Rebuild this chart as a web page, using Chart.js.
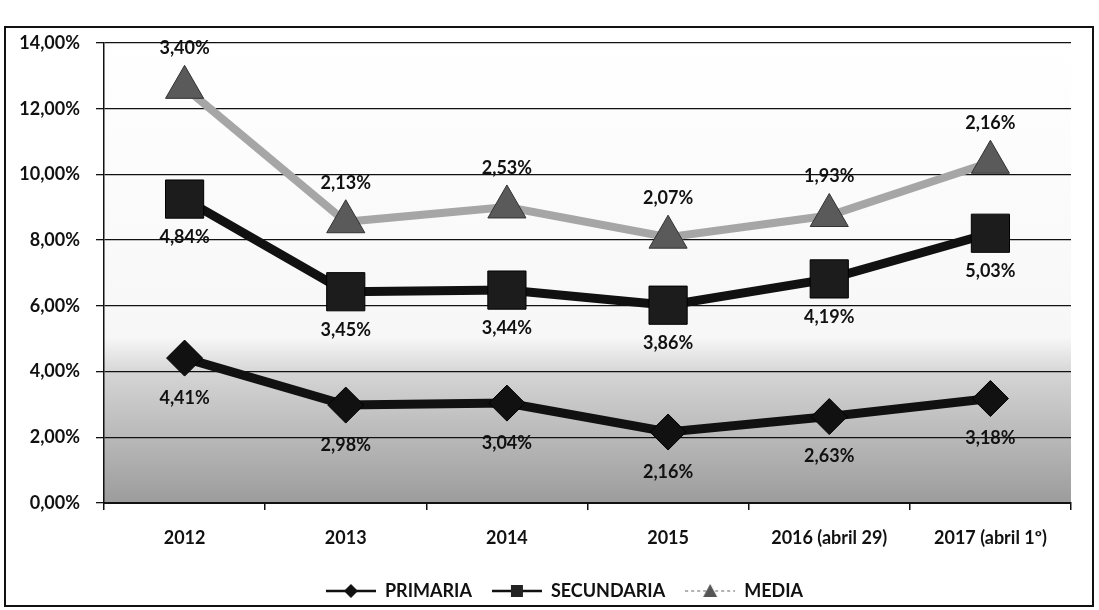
<!DOCTYPE html>
<html>
<head>
<meta charset="utf-8">
<script src="https://cdn.jsdelivr.net/npm/chart.js@4/dist/chart.umd.min.js"></script>
<style>
  html, body { margin: 0; padding: 0; background: #fff; }
  #wrap { width: 1099px; height: 610px; position: relative; }
</style>
</head>
<body>
<div id="wrap"><canvas id="chart"></canvas></div>
<script>
// datos
const years = ['2012', '2013', '2014', '2015', '2016 (abril 29)', '2017 (abril 1º)'];
const primaria = [4.41, 2.98, 3.04, 2.16, 2.63, 3.18];
const secundaria = [4.84, 3.45, 3.44, 3.86, 4.19, 5.03];
const media = [3.40, 2.13, 2.53, 2.07, 1.93, 2.16];
const yTicks = [0, 2, 4, 6, 8, 10, 12, 14];

const FONT = 'Lato, "Open Sans", sans-serif';
const pct = v => v.toFixed(2).replace('.', ',') + '%';

// icono de leyenda: línea + marcador
function legendIcon(shape, lineColor, markColor, dashed) {
  const c = document.createElement('canvas');
  c.width = 50; c.height = 20;
  const g = c.getContext('2d');
  g.strokeStyle = lineColor;
  g.lineWidth = dashed ? 1.5 : 2.5;
  if (dashed) g.setLineDash([3, 3]);
  g.beginPath(); g.moveTo(0, 10); g.lineTo(50, 10); g.stroke();
  g.setLineDash([]);
  g.fillStyle = markColor;
  g.beginPath();
  if (shape === 'diamond') {
    g.moveTo(25, 3); g.lineTo(32, 10); g.lineTo(25, 17); g.lineTo(18, 10);
  } else if (shape === 'square') {
    g.rect(19, 4, 12, 12);
  } else {
    g.moveTo(25, 3); g.lineTo(32, 16); g.lineTo(18, 16);
  }
  g.closePath(); g.fill();
  return c;
}

const icons = [
  legendIcon('diamond', '#111', '#111', false),
  legendIcon('square', '#111', '#222', false),
  legendIcon('triangle', '#999', '#555', true)
];

// fondo, marco y degradado del área
const backdrop = {
  id: 'backdrop',
  afterLayout(chart) {
    // la leyenda del original está algo desplazada a la derecha
    chart.legend.left += 15;
    chart.legend.right += 15;
  },
  beforeDraw(chart) {
    const { ctx, chartArea: a } = chart;
    ctx.save();
    ctx.fillStyle = '#fff';
    ctx.fillRect(0, 0, chart.width, chart.height);
    const grad = ctx.createLinearGradient(0, a.top, 0, a.bottom);
    grad.addColorStop(0, '#ffffff');
    grad.addColorStop(0.64, '#f7f7f7');
    grad.addColorStop(0.72, '#d4d4d4');
    grad.addColorStop(1, '#9c9c9c');
    ctx.fillStyle = grad;
    ctx.fillRect(a.left, a.top, a.right - a.left, a.bottom - a.top);
    ctx.strokeStyle = '#111';
    ctx.lineWidth = 2;
    ctx.strokeRect(5, 27, 1088, 579);
    ctx.restore();
  }
};

// etiquetas de datos
const OFFSETS = [40, 38, -39];
const dataLabels = {
  id: 'dataLabels',
  afterDatasetsDraw(chart) {
    const { ctx } = chart;
    ctx.save();
    ctx.font = 'bold 18px ' + FONT;
    ctx.fillStyle = '#111';
    ctx.textAlign = 'center';
    ctx.textBaseline = 'middle';
    chart.data.datasets.forEach((ds, i) => {
      chart.getDatasetMeta(i).data.forEach((p, j) => {
        ctx.fillText(pct(ds.data[j]), p.x, p.y + OFFSETS[i]);
      });
    });
    ctx.restore();
  }
};

new Chart(document.getElementById('chart'), {
  type: 'line',
  data: {
    labels: years,
    datasets: [
      {
        label: 'PRIMARIA', data: primaria,
        borderColor: '#111', borderWidth: 9,
        pointStyle: 'rectRot', pointRadius: 18,
        pointBackgroundColor: '#111', pointBorderColor: '#000', pointBorderWidth: 1
      },
      {
        label: 'SECUNDARIA', data: secundaria,
        borderColor: '#111', borderWidth: 9,
        pointStyle: 'rect', pointRadius: 27,
        pointBackgroundColor: '#1c1c1c', pointBorderColor: '#000', pointBorderWidth: 1
      },
      {
        label: 'MEDIA', data: media,
        borderColor: '#a6a6a6', borderWidth: 8,
        pointStyle: 'triangle', pointRadius: 22,
        pointBackgroundColor: '#5a5a5a', pointBorderColor: '#333', pointBorderWidth: 1
      }
    ]
  },
  options: {
    responsive: true, maintainAspectRatio: false, animation: false,
    layout: { padding: { left: 5, right: 5, top: 43, bottom: 0 } },
    plugins: {
      tooltip: { enabled: false },
      legend: {
        position: 'bottom',
        labels: {
          color: '#111', font: { family: FONT, size: 18, weight: 'bold' },
          usePointStyle: true, pointStyleWidth: 50, padding: 20,
          generateLabels: chart => chart.data.datasets.map((ds, i) => ({
            text: ds.label, pointStyle: icons[i], datasetIndex: i,
            fillStyle: ds.borderColor, strokeStyle: ds.borderColor, lineWidth: 0,
            fontColor: '#111'
          }))
        }
      }
    },
    scales: {
      x: {
        offset: true,
        afterFit: s => { s.height = 59; },
        grid: { display: true, offset: true, drawOnChartArea: false, drawTicks: true, tickLength: 7, color: '#111', lineWidth: 1.5 },
        border: { display: true, color: '#111', width: 2 },
        ticks: { color: '#111', padding: 17, maxRotation: 0, autoSkip: false, font: { family: FONT, size: 18, weight: 'bold' } }
      },
      y: {
        stacked: true, min: 0, max: 14,
        afterFit: s => { s.width = 99; },
        afterBuildTicks: s => { s.ticks = yTicks.map(v => ({ value: v })); },
        grid: { color: '#111', lineWidth: 1.3, tickLength: 8 },
        border: { display: true, color: '#111', width: 1.5 },
        ticks: { color: '#111', padding: 16, font: { family: FONT, size: 18, weight: 'bold' }, callback: v => pct(v) }
      }
    }
  },
  plugins: [backdrop, dataLabels]
});
</script>
</body>
</html>
